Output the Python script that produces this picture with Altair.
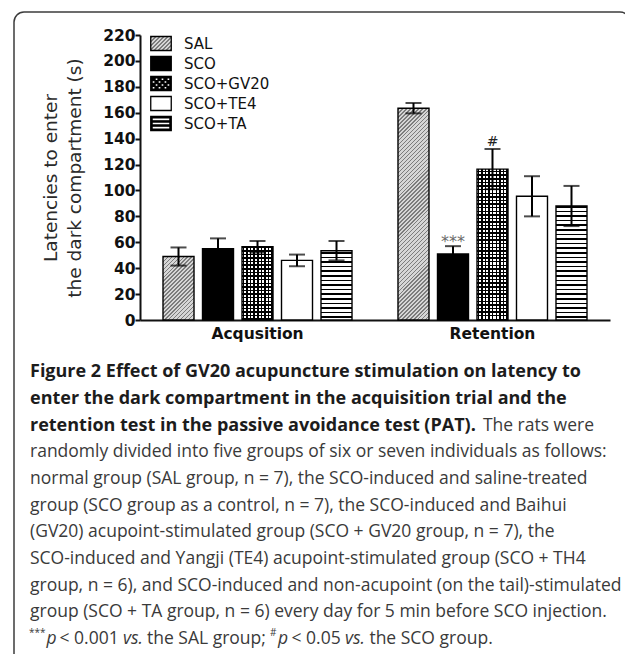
import math
import json
import altair as alt
import pandas as pd

# ---------------- data ----------------
phases = ["Acqusition", "Retention"]
groups = ["SAL", "SCO", "SCO+GV20", "SCO+TE4", "SCO+TA"]
acq_mean = [49, 55, 56.5, 46, 53.5]
acq_sem = [7, 8, 4.5, 4.5, 7.5]
ret_mean = [163.5, 51, 116.5, 95.5, 88]
ret_sem = [4, 6, 15.5, 15.5, 15.5]
acq_sig = ["", "", "", "", ""]
ret_sig = ["", "***", "#", "", ""]
y_ticks = list(range(0, 221, 20))
y_title = ["Latencies to enter", "the dark compartment (s)"]

caption_bold = [
    "Figure 2 Effect of GV20 acupuncture stimulation on latency to",
    "enter the dark compartment in the acquisition trial and the",
]
caption_bold_tail = "retention test in the passive avoidance test (PAT)."
caption_tail = "The rats were"
caption_body = [
    "randomly divided into five groups of six or seven individuals as follows:",
    "normal group (SAL group, n = 7), the SCO-induced and saline-treated",
    "group (SCO group as a control, n = 7), the SCO-induced and Baihui",
    "(GV20) acupoint-stimulated group (SCO + GV20 group, n = 7), the",
    "SCO-induced and Yangji (TE4) acupoint-stimulated group (SCO + TH4",
    "group, n = 6), and SCO-induced and non-acupoint (on the tail)-stimulated",
    "group (SCO + TA group, n = 6) every day for 5 min before SCO injection.",
]
footnote = [
    ("***", "sup"), ("p", "it"), ("< 0.001", "n"), ("vs.", "it"), ("the SAL group;", "n"),
    ("#", "sup"), ("p", "it"), ("< 0.05", "n"), ("vs.", "it"), ("the SCO group.", "n"),
]

rows = []
for ph, means, sems, sigs in [(phases[0], acq_mean, acq_sem, acq_sig),
                              (phases[1], ret_mean, ret_sem, ret_sig)]:
    for g, m, s, a in zip(groups, means, sems, sigs):
        rows.append({"phase": ph, "group": g, "mean": m, "lo": m - s, "hi": m + s, "sig": a})
df = pd.DataFrame(rows)

# ---------------- layout ----------------
W, H = 470, 285
YMAX = 220
K = H / YMAX
PAD = {"left": 132, "top": 27, "right": 15, "bottom": 334}
X_PI, X_PO = 0.1957, 0.0979
O_PI = 0.2152
group_bw = W / (2 - X_PI + 2 * X_PO) * (1 - X_PI)
BAR_W = group_bw / (5 - O_PI) * (1 - O_PI)


def r4(v):
    return round(v, 4)


def stripe_stops(length, pitch, lw, c_line, c_bg, start=0.0):
    stops = [{"offset": 0, "color": c_bg}]
    p = start
    while p < length:
        a = max(p, 0) / length
        b = min(p + lw, length) / length
        if b > a:
            stops += [{"offset": r4(a), "color": c_bg}, {"offset": r4(a), "color": c_line},
                      {"offset": r4(b), "color": c_line}, {"offset": r4(b), "color": c_bg}]
        p += pitch
    stops.append({"offset": 1, "color": c_bg})
    return stops


def lin(x1, y1, x2, y2, stops):
    return {"gradient": "linear", "x1": r4(x1), "y1": r4(y1), "x2": r4(x2), "y2": r4(y2), "stops": stops}


def diag(w, h, pitch=2.8, lw=1.0, c_line="#7c7c7c", c_bg="#d6d6d6"):
    t = (w + h) / (w * w + h * h)
    L = (w + h) / math.sqrt(2)
    return lin(0, 0, w * t, h * t, stripe_stops(L, pitch, lw, c_line, c_bg, 0.5))


def hstripes(h, pitch, lw, c_line, c_bg, start):
    return lin(0, 1, 0, 0, stripe_stops(h, pitch, lw, c_line, c_bg, start))


def vstripes(w, pitch, lw, c_line, c_bg, start):
    return lin(0, 0, 1, 0, stripe_stops(w, pitch, lw, c_line, c_bg, start))


# ---------------- encodings ----------------
XS = alt.Scale(domain=phases, paddingInner=X_PI, paddingOuter=X_PO)
OS = alt.Scale(domain=groups, paddingInner=O_PI, paddingOuter=0)
YS = alt.Scale(domain=[0, YMAX], nice=False, zero=True)

XAX = alt.Axis(title=None, labelAngle=0, ticks=False, tickSize=0, labelPadding=6,
               labelFont="DejaVu Sans", labelFontSize=15.5, labelFontWeight="bold",
               labelColor="#111", domainWidth=2, domainColor="#111", grid=False)
YAX = alt.Axis(values=y_ticks, title=y_title, titleFont="DejaVu Sans", titleFontSize=18.5,
               titleFontWeight="normal", titleColor="#2a2a2a", titleX=-84, titleY=H / 2,
               titleAngle=270, titleAlign="center", titleBaseline="alphabetic",
               titleLineHeight=24, labelFont="DejaVu Sans", labelFontSize=15.5,
               labelFontWeight="bold", labelColor="#111", labelPadding=0, tickSize=5,
               tickWidth=2, tickColor="#111", domainWidth=2, domainColor="#111", grid=False)

X = alt.X("phase:N", scale=XS, axis=XAX)
XO = alt.XOffset("group:N", scale=OS)


def Y(field):
    return alt.Y(field, type="quantitative", scale=YS, axis=YAX)


layers = []

# frame
layers.append(
    alt.Chart(alt.Data(values=[{"f": 1}])).mark_rect(
        fillOpacity=0, stroke="#3c3c3c", strokeWidth=1.5, cornerRadius=10
    ).encode(x=alt.value(-126), x2=alt.value(490), y=alt.value(-23), y2=alt.value(720))
)

# bars
for ph, means in [(phases[0], acq_mean), (phases[1], ret_mean)]:
    for g, m in zip(groups, means):
        hpx = m * K
        base = alt.Chart(df).transform_filter(
            (alt.datum.phase == ph) & (alt.datum.group == g)
        )
        enc = dict(x=X, xOffset=XO, y=Y("mean"))
        if g == "SAL":
            layers.append(base.mark_bar(fill=diag(BAR_W, hpx), stroke="black",
                                        strokeWidth=1.4).encode(**enc))
        elif g == "SCO":
            layers.append(base.mark_bar(fill="black", stroke="black",
                                        strokeWidth=1.4).encode(**enc))
        elif g == "SCO+GV20":
            layers.append(base.mark_bar(
                fill=vstripes(BAR_W, 3.6, 1.5, "black", "white", 0.6)).encode(**enc))
            layers.append(base.mark_bar(
                fill=hstripes(hpx, 3.6, 1.5, "black", "rgba(0,0,0,0)", 0.0),
                stroke="black", strokeWidth=1.4).encode(**enc))
        elif g == "SCO+TE4":
            layers.append(base.mark_bar(fill="white", stroke="black",
                                        strokeWidth=1.4).encode(**enc))
        else:
            layers.append(base.mark_bar(
                fill=hstripes(hpx, 4.6, 1.6, "black", "white", 2.0),
                stroke="black", strokeWidth=1.4).encode(**enc))

# error bars
err = alt.Chart(df)
layers.append(err.mark_rule(strokeWidth=2, color="black").encode(
    x=X, xOffset=XO, y=Y("lo"), y2="hi:Q"))
layers.append(err.mark_tick(size=16, thickness=2, color="black").encode(
    x=X, xOffset=XO, y=Y("hi")))
layers.append(err.mark_tick(size=16, thickness=2, color="black").encode(
    x=X, xOffset=XO, y=Y("lo")))

# significance marks
layers.append(err.transform_filter(alt.datum.sig == "***").mark_text(
    font="DejaVu Sans", fontSize=16, color="#6a6a6a", baseline="alphabetic", dy=1
).encode(x=X, xOffset=XO, y=Y("hi"), text="sig:N"))
layers.append(err.transform_filter(alt.datum.sig == "#").mark_text(
    font="DejaVu Sans", fontSize=14, color="#222", baseline="alphabetic", dy=-3
).encode(x=X, xOffset=XO, y=Y("hi"), text="sig:N"))

# ---------------- legend (symbols drawn as patterns) ----------------
SYM = 18.6          # legend entry pitch in px
SC = 10.25 / (SYM / 2)  # path units so that the symbol is ~20.5 px wide
LW, LH = 20.5, 14
leg_sal = diag(LW, LH, 2.8, 1.0)


def rect_cw(x0, y0, x1, y1):
    return f"M{r4(x0)},{r4(y0)}H{r4(x1)}V{r4(y1)}H{r4(x0)}Z"


def rect_ccw(x0, y0, x1, y1):
    return f"M{r4(x0)},{r4(y0)}V{r4(y1)}H{r4(x1)}V{r4(y0)}Z"


hx, hy = SC, SC * 0.683
fr = 0.13 * SC
frame_path = rect_cw(-hx, -hy, hx, hy) + rect_ccw(-hx + fr, -hy + fr, hx - fr, hy - fr)
ix0, iy0, ix1, iy1 = -hx + fr, -hy + fr, hx - fr, hy - fr
nc, nr = 6, 4
cw_, ch_ = (ix1 - ix0) / nc, (iy1 - iy0) / nr
checker = "".join(
    rect_cw(ix0 + i * cw_, iy0 + j * ch_, ix0 + (i + 1) * cw_, iy0 + (j + 1) * ch_)
    for i in range(nc) for j in range(nr) if (i + j) % 2 == 0
)
gv_path = frame_path + checker
lt = 0.12 * SC
band = (iy1 - iy0 - 2 * lt) / 3
ta_path = frame_path + rect_cw(ix0, iy0 + band, ix1, iy0 + band + lt) + \
    rect_cw(ix0, iy0 + 2 * band + lt, ix1, iy0 + 2 * band + 2 * lt)
plain_path = rect_cw(-hx, -hy, hx, hy)

legend = alt.Legend(
    title=None, orient="none", legendX=11, legendY=-1.5, padding=0, rowPadding=0,
    symbolSize=SYM * SYM, symbolOpacity=1, symbolStrokeColor="black",
    labelFont="DejaVu Sans", labelFontSize=15,
    labelColor="#111", labelOffset=13, labelLimit=0,
)
leg_df = pd.DataFrame({"group": groups})
gs = dict(domain=groups)
layers.append(alt.Chart(leg_df).mark_point(opacity=0, filled=True).encode(
    fill=alt.Fill("group:N", scale=alt.Scale(
        range=[{"expr": json.dumps(leg_sal)}, "black", "black", "white", "black"], **gs),
        legend=legend),
    stroke=alt.Stroke("group:N", scale=alt.Scale(
        range=["black", "black", "black", "black", "black"], **gs), legend=legend),
    shape=alt.Shape("group:N", scale=alt.Scale(
        range=[plain_path, plain_path, gv_path, plain_path, ta_path], **gs), legend=legend),
    strokeWidth=alt.StrokeWidth("group:N", scale=alt.Scale(
        range=[1.3, 1.3, 0, 1.3, 0], **gs), legend=legend),
))

# ---------------- caption ----------------
BASE0 = 342.3
LSTEP = 26.67
CX = -110
FONT = "Open Sans"
NORM = 17.5
BOLD = 18.0


def txt(s, x, y, size=NORM, weight="normal", style="normal", color="#3a3a3a", align="left"):
    return alt.Chart(alt.Data(values=[{"t": 1}])).mark_text(
        text=s, align=align, baseline="alphabetic", font=FONT, fontSize=size,
        fontWeight=weight, fontStyle=style, color=color, lineHeight=LSTEP
    ).encode(x=alt.value(x), y=alt.value(y))


layers.append(txt(caption_bold, CX, BASE0, size=BOLD, weight="bold", color="#1c1c1c"))
layers.append(txt(caption_bold_tail, CX, BASE0 + 2 * LSTEP, size=BOLD, weight="bold",
                  color="#1c1c1c"))
layers.append(txt(caption_tail, 454, BASE0 + 2 * LSTEP, align="right"))
layers.append(txt(caption_body, CX, BASE0 + 3 * LSTEP))

fy = BASE0 + 10 * LSTEP
fx = [29, 46.4, 59.5, 123, 147, 270, 278, 291.5, 345, 369.4]
for (s, kind), xp in zip(footnote, fx):
    if kind == "sup":
        layers.append(txt(s, xp - 140, fy - 8, size=10))
    elif kind == "it":
        layers.append(txt(s, xp - 140, fy, style="italic"))
    else:
        layers.append(txt(s, xp - 140, fy))

chart = alt.layer(*layers).properties(
    width=W, height=H, padding=PAD, autosize=alt.AutoSizeParams(type="none")
).configure_view(stroke=None)

chart.save("out.html", embed_options={"renderer": "svg", "actions": False})
